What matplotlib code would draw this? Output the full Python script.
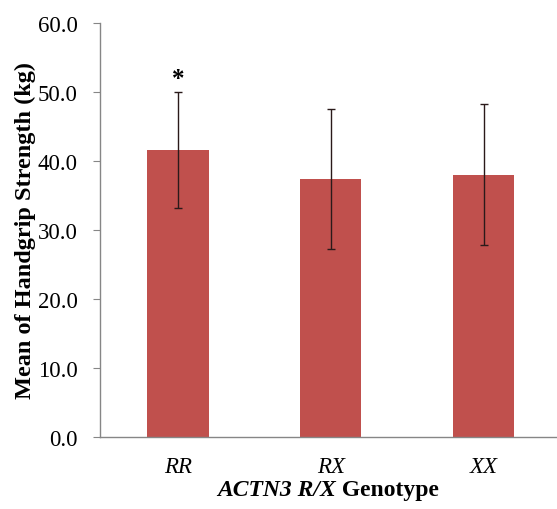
import matplotlib
matplotlib.use("Agg")
import matplotlib.pyplot as plt

# data
genotypes = ["RR", "RX", "XX"]
means = [41.6, 37.4, 38.0]
sds = [8.4, 10.2, 10.2]
stars = ["*", "", ""]

plt.rcParams["font.family"] = ["Liberation Serif", "DejaVu Serif"]

fig = plt.figure(figsize=(5.57, 5.10), dpi=100)
ax = fig.add_axes([100 / 557, 1 - 438 / 510, 457 / 557, 414 / 510])

x = list(range(len(genotypes)))
ax.bar(x, means, width=0.4, color="#C0504D", zorder=2)
ax.errorbar(x, means, yerr=sds, fmt="none", ecolor="#2a1a1a", elinewidth=1.0,
            capsize=3, capthick=1.0, zorder=3)
for xi, m, s, st in zip(x, means, sds, stars):
    if st:
        ax.text(xi, m + s + 1.9, st, ha="center", va="center",
                fontsize=18, fontweight="bold")

ax.set_xlim(-0.51, 2.48)
ax.set_ylim(0, 60)
ax.set_yticks([0, 10, 20, 30, 40, 50, 60])
ax.set_yticklabels([f"{v:.1f}" for v in range(0, 61, 10)], fontsize=16.5)
ax.set_xticks(x)
ax.set_xticklabels(genotypes, fontsize=16.5, fontstyle="italic")
ax.tick_params(axis="x", length=0, pad=14)
ax.tick_params(axis="y", length=5, color="#868686", pad=11)

for side in ["top", "right"]:
    ax.spines[side].set_visible(False)
for side in ["left", "bottom"]:
    ax.spines[side].set_color("#868686")
    ax.spines[side].set_linewidth(1.0)

ax.set_ylabel("Mean of Handgrip Strength (kg)", fontsize=17.5,
              fontweight="bold", labelpad=1)

# x label with mixed italic / upright parts
ylab = 1 - 491 / 510
t1 = fig.text(0, ylab, "ACTN3 R/X", fontsize=17, fontweight="bold",
              fontstyle="italic", va="center", ha="left")
t2 = fig.text(0, ylab, " Genotype", fontsize=17, fontweight="bold",
              va="center", ha="left")
fig.canvas.draw()
r = fig.canvas.get_renderer()
w1 = t1.get_window_extent(r).width
w2 = t2.get_window_extent(r).width
cx = (100 + 557) / 2
start = cx - (w1 + w2) / 2
t1.set_x(start / 557)
t2.set_x((start + w1) / 557)

fig.savefig("out.png", dpi=100)
